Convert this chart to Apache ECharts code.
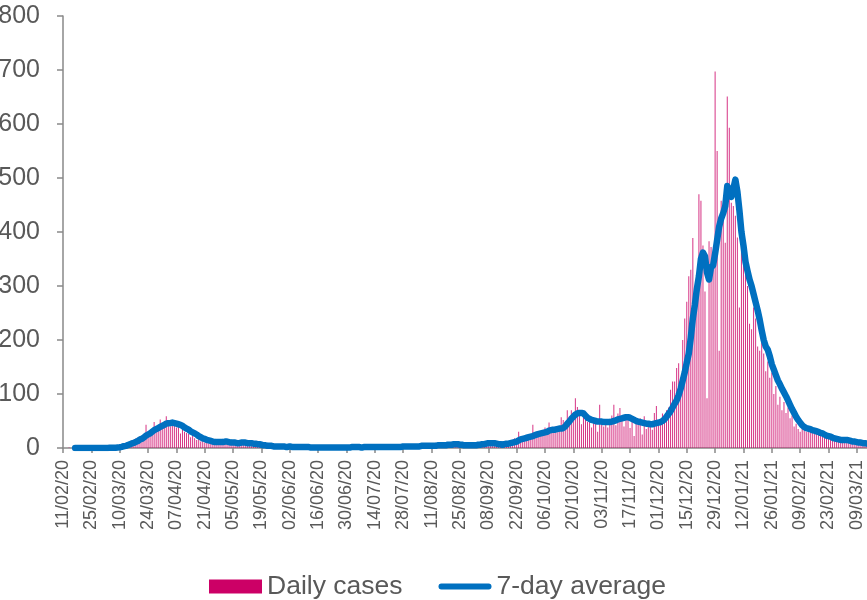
<!DOCTYPE html>
<html>
<head>
<meta charset="utf-8">
<script src="https://cdn.jsdelivr.net/npm/echarts@6/dist/echarts.min.js"></script>
<style>
  html, body { margin: 0; padding: 0; background: #fff; }
  #chart { width: 867px; height: 600px; }
</style>
</head>
<body>
<div id="chart"></div>
<script>
// first day on the axis, one entry per day after it
var firstDay = [2020, 1, 11];

// daily cases, one row = two weeks (row starts at each axis label)
var dailyCases = [
  0,0,0,1,0,0,0,0,0,0,0,0,0,0,
  0,0,0,0,0,1,0,0,0,1,0,2,1,3,
  3,6,8,5,11,10,14,12,18,16,22,20,25,43,
  28,30,35,48,33,40,53,42,44,59,45,40,50,42,
  38,44,27,35,30,28,26,20,24,18,15,17,12,14,
  10,11,9,8,12,7,10,13,9,14,11,8,10,9,
  7,11,6,9,12,8,10,7,9,6,8,5,4,6,
  3,5,4,2,5,3,2,4,3,1,3,2,4,1,
  2,3,1,2,3,1,2,2,1,0,2,1,1,2,
  1,0,1,2,1,0,1,1,2,0,1,1,0,2,
  1,2,3,1,0,1,2,1,2,3,2,1,2,3,
  2,1,3,2,2,1,3,2,2,1,2,3,2,4,
  3,2,4,3,3,2,4,5,3,4,6,3,4,5,
  4,6,3,5,6,4,7,5,8,6,9,7,5,8,
  3,5,2,4,6,3,8,5,7,9,6,12,10,8,
  14,9,7,11,6,4,8,5,9,12,10,15,13,18,
  16,30,19,14,22,20,18,26,43,24,20,30,28,32,
  38,30,47,35,33,40,29,38,57,52,41,70,58,70,
  64,92,76,60,44,61,55,48,50,38,52,45,30,80,
  44,40,52,38,45,60,80,42,64,74,55,40,52,62,
  37,58,22,50,45,55,25,59,35,40,40,34,65,78,
  45,50,64,55,70,75,108,123,123,148,157,130,200,240,
  271,318,330,389,275,306,470,458,375,290,92,383,372,330,
  697,550,180,458,435,380,651,593,454,448,430,390,260,400,
  360,330,300,230,220,260,240,188,180,200,175,142,160,130,
  140,100,115,80,95,70,85,65,75,55,60,40,45,35,
  30,38,42,30,35,33,36,28,30,32,25,27,22,24,
  20,22,18,16,19,15,14,16,13,15,14,12,10,12,
  11,9,10,8,9,7
];

// 7-day average as drawn (starts a week in)
var sevenDayAvg = [
  null,null,null,null,null,null,0,0,0,0,0,0,0,0,
  0,0,0,0,0,0.1,0.1,0.1,0.1,0.3,0.3,0.6,0.6,1,
  1.4,2.1,3.3,3.9,5.4,6.6,8.4,9.4,11.4,13.1,15.6,17.1,19.6,23,
  25,27,30,33,35,37,39,41,43,45,46,46,47,46,
  45,44,43,41,38,36,34,31,29,27,25,22,20,18,
  17,15,14,13,12,11,11,11,11,11,12,12,11,10,
  10,10,9,9,10,10,10,9,9,9,8,8,7,7,
  6,5,5,4,4,4,3,3,3,3,3,3,2,2,
  3,2,2,2,2,2,2,2,2,2,1,1,1,1,
  1,1,1,1,1,1,1,1,1,1,1,1,1,1,
  1,1,1,2,2,2,2,1,1,2,2,2,2,2,
  2,2,2,2,2,2,2,2,2,2,2,2,2,2,
  3,3,3,3,3,3,3,3,3,4,4,4,4,4,
  4,4,4,5,5,5,5,5,6,6,6,7,7,7,
  6,6,5,5,5,5,5,5,5,6,6,7,7,8,
  9,9,9,9,8,7,7,6,7,8,8,9,10,11,
  12,14,16,17,18,19,20,21,22,24,25,26,27,28,
  29,30,32,33,34,34,35,36,36,37,40,45,49,54,
  58,62,64,65,65,64,60,56,54,52,51,50,49,49,
  49,48,48,48,48,49,50,51,53,54,55,56,57,57,
  56,54,52,50,49,48,47,46,45,45,44,44,45,46,
  47,48,50,53,58,63,68,75,82,88,98,110,125,140,
  158,175,205,240,265,295,318,350,362,355,325,312,335,338,
  360,385,410,425,435,448,485,478,465,480,497,475,440,400,
  375,345,328,312,300,285,270,255,238,218,200,188,182,170,
  155,145,135,125,118,110,103,96,88,80,72,65,58,52,
  47,42,39,37,36,35,33,32,31,30,28,27,25,23,
  22,21,19,18,17,16,15,15,15,15,14,13,12,12,
  11,10,10,9,9,8
];

var yTicks = [0, 100, 200, 300, 400, 500, 600, 700, 800];

function pad(n) { return n < 10 ? '0' + n : '' + n; }

var days = [];
for (var i = 0; i < dailyCases.length; i++) {
  var dt = new Date(firstDay[0], firstDay[1], firstDay[2] + i);
  days.push(pad(dt.getDate()) + '/' + pad(dt.getMonth() + 1) + '/' + String(dt.getFullYear()).slice(2));
}

var textColor = '#595959';
var axisColor = '#898989';
var magenta = '#CC0066';
var blue = '#0070C0';
var font = '"Liberation Sans", Arial, sans-serif';

var myChart = echarts.init(document.getElementById('chart'));
myChart.setOption({
  animation: false,
  // the picture is cropped: let the labels run off the left edge
  grid: { left: 63, right: 0, top: 16, bottom: 152, containLabel: false, outerBoundsMode: 'none' },
  legend: {
    top: 568,
    left: 204,
    itemWidth: 53,
    itemHeight: 14,
    itemGap: 36,
    textStyle: { color: textColor, fontSize: 26.5, fontFamily: font },
    data: [
      { name: 'Daily cases', icon: 'rect', itemStyle: { color: magenta, opacity: 1 } },
      // thick rounded bar standing in for the line sample
      { name: '7-day average', icon: 'path://M3,0 L52,0 A3,3 0 0 1 52,6 L3,6 A3,3 0 0 1 3,0 Z' }
    ]
  },
  xAxis: {
    type: 'category',
    data: days,
    boundaryGap: false,
    axisLine: { lineStyle: { color: axisColor, width: 1.5 } },
    axisTick: { interval: 13, length: 5, lineStyle: { color: axisColor, width: 1.5 } },
    axisLabel: {
      interval: 13, rotate: 90, margin: 12,
      color: textColor, fontSize: 18, fontFamily: font
    }
  },
  yAxis: {
    type: 'value',
    min: yTicks[0],
    max: yTicks[yTicks.length - 1],
    interval: yTicks[1] - yTicks[0],
    splitLine: { show: false },
    axisLine: { show: true, lineStyle: { color: axisColor, width: 1.5 } },
    axisTick: { show: true, length: 6, lineStyle: { color: axisColor, width: 1.5 } },
    axisLabel: { margin: 23, color: textColor, fontSize: 25, fontFamily: font }
  },
  series: [
    {
      name: 'Daily cases',
      type: 'bar',
      data: dailyCases,
      barWidth: 1,
      itemStyle: { color: magenta, opacity: 0.8 }
    },
    {
      name: '7-day average',
      type: 'line',
      data: sevenDayAvg,
      showSymbol: false,
      symbol: 'none',
      lineStyle: { color: blue, width: 6.5, cap: 'round', join: 'round' },
      itemStyle: { color: blue }
    }
  ]
});
</script>
</body>
</html>
